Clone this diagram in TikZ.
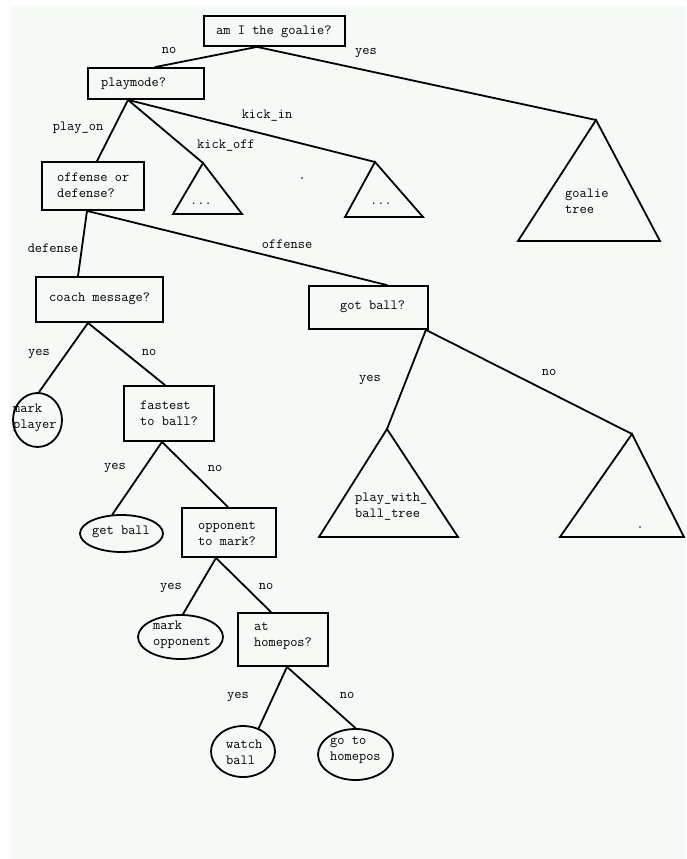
\documentclass[tikz,border=0pt]{standalone}
\usepackage{fontspec}
\usetikzlibrary{shapes.geometric}
\definecolor{bg}{RGB}{245,250,247}
\tikzset{
  lw/.style={line width=1.8pt},
  qbox/.style={draw, lw, rectangle, inner sep=0pt},
  leaf/.style={draw, lw, ellipse, inner sep=0pt},
  txt/.style={font=\ttfamily\fontsize{14}{16}\selectfont, inner sep=0pt, anchor=west, align=left},
  lbl/.style={font=\ttfamily\fontsize{14}{16}\selectfont, inner sep=0pt, anchor=mid},
  edge/.style={lw, line cap=round},
  tri/.style={lw, line join=miter}
}
\begin{document}
\begin{tikzpicture}[x=1pt,y=-1pt]
\useasboundingbox (0,0) rectangle (686,859);
\fill[bg] (10,6) rectangle (686,859);

% decision boxes
\node[qbox, minimum width=141pt, minimum height=30pt] (root) at (274.5,31) {};
\node[qbox, minimum width=116pt, minimum height=31pt] (playmode) at (146,83.5) {};
\node[qbox, minimum width=102pt, minimum height=48pt] (offdef) at (93,186) {};
\node[qbox, minimum width=127pt, minimum height=45pt] (coach) at (99.5,299.5) {};
\node[qbox, minimum width=119pt, minimum height=43pt] (gotball) at (368.5,307.5) {};
\node[qbox, minimum width=90pt, minimum height=55pt] (fastest) at (169,413.5) {};
\node[qbox, minimum width=94pt, minimum height=49pt] (opponent) at (229,532.5) {};
\node[qbox, minimum width=90pt, minimum height=53pt] (homepos) at (283,639.5) {};

% leaves
\node[leaf, minimum width=49pt, minimum height=54pt] (markplayer) at (37.5,420) {};
\node[leaf, minimum width=83pt, minimum height=37pt] (getball) at (121.5,533.5) {};
\node[leaf, minimum width=85pt, minimum height=44pt] (markopp) at (180.5,637) {};
\node[leaf, minimum width=64pt, minimum height=51pt] (watchball) at (243,751.5) {};
\node[leaf, minimum width=75pt, minimum height=51pt] (gotohome) at (355.5,754.5) {};

% subtree triangles
\coordinate (goalieA) at (596,120);
\draw[tri] (goalieA) -- (660,241) -- (518,241) -- cycle;
\coordinate (kickoffA) at (203,163);
\draw[tri] (kickoffA) -- (242,214) -- (173,214) -- cycle;
\coordinate (kickinA) at (375,162);
\draw[tri] (kickinA) -- (423,217) -- (345,217) -- cycle;
\coordinate (pwbA) at (387,429);
\draw[tri] (pwbA) -- (458,537) -- (319,537) -- cycle;
\coordinate (rightA) at (632,434);
\draw[tri] (rightA) -- (684,537) -- (560,537) -- cycle;

% texts
\node[txt] (t-root) at (216,32) {am I the goalie?};
\node[txt] (t-playmode) at (101,84) {playmode?};
\node[txt] (t-offdef) at (57,185) {offense or\\defense?};
\node[txt] (t-coach) at (49,299) {coach message?};
\node[txt] (t-gotball) at (340,307) {got ball?};
\node[txt] (t-fastest) at (140,413) {fastest\\to ball?};
\node[txt] (t-getball) at (92,532) {get ball};
\node[txt] (t-opponent) at (198,534) {opponent\\to mark?};
\node[txt] (t-markplayer) at (13,418) {mark\\player};
\node[txt] (t-markopp) at (153,635) {mark\\opponent};
\node[txt] (t-homepos) at (254,636) {at\\homepos?};
\node[txt] (t-watch) at (226,752) {watch\\ball};
\node[txt] (t-gotohome) at (330,750) {go to\\homepos};
\node[txt] (t-goalie) at (565,201) {goalie\\tree};
\node[txt] (t-pwb) at (355,507) {play\_with\_\\ball\_tree};
\node[txt] (t-dots1) at (190,204) {...};
\node[txt] (t-dots2) at (370,204) {...};
\fill (302,178) circle (0.9pt);
\fill (640,527) circle (0.9pt);

% connectors
\draw[edge] ([xshift=-17.5pt]root.south) -- ([xshift=9pt]playmode.north);
\draw[edge] ([xshift=-17.5pt]root.south) -- (goalieA);
\draw[edge] ([xshift=-18pt]playmode.south) -- ([xshift=4pt]offdef.north);
\draw[edge] ([xshift=-18pt]playmode.south) -- (kickoffA);
\draw[edge] ([xshift=-18pt]playmode.south) -- (kickinA);
\draw[edge] ([xshift=-6pt]offdef.south) -- ([xshift=-21.5pt]coach.north);
\draw[edge] ([xshift=-6pt]offdef.south) -- ([xshift=18.5pt]gotball.north);
\draw[edge] ([xshift=-11.5pt]coach.south) -- ([xshift=1.5pt]markplayer.north);
\draw[edge] ([xshift=-11.5pt]coach.south) -- ([xshift=-4pt]fastest.north);
\draw[edge] ([xshift=-7pt]fastest.south) -- (getball.116);
\draw[edge] ([xshift=-7pt]fastest.south) -- ([xshift=-1pt]opponent.north);
\draw[edge] ([xshift=-13pt]opponent.south) -- ([xshift=2.5pt]markopp.north);
\draw[edge] ([xshift=-13pt]opponent.south) -- ([xshift=-12pt]homepos.north);
\draw[edge] ([xshift=4pt]homepos.south) -- (watchball.56);
\draw[edge] ([xshift=4pt]homepos.south) -- (gotohome.north);
\draw[edge] ([xshift=-3pt]gotball.south east) -- (pwbA);
\draw[edge] ([xshift=-3pt]gotball.south east) -- (rightA);

% edge labels
\node[lbl] (l-no1) at (169,51) {no};
\node[lbl] (l-yes1) at (366,52) {yes};
\node[lbl] (l-playon) at (78,128) {play\_on};
\node[lbl] (l-kickoff) at (226,146) {kick\_off};
\node[lbl] (l-kickin) at (267,116) {kick\_in};
\node[lbl] (l-defense) at (53,250) {defense};
\node[lbl] (l-offense) at (287,246) {offense};
\node[lbl] (l-yes2) at (39,353) {yes};
\node[lbl] (l-no2) at (149,353) {no};
\node[lbl] (l-yes3) at (115,467) {yes};
\node[lbl] (l-no3) at (215,469) {no};
\node[lbl] (l-yes4) at (171,587) {yes};
\node[lbl] (l-no4) at (266,587) {no};
\node[lbl] (l-yes5) at (238,696) {yes};
\node[lbl] (l-no5) at (347,696) {no};
\node[lbl] (l-yes6) at (370,379) {yes};
\node[lbl] (l-no6) at (549,373) {no};
\end{tikzpicture}
\end{document}
